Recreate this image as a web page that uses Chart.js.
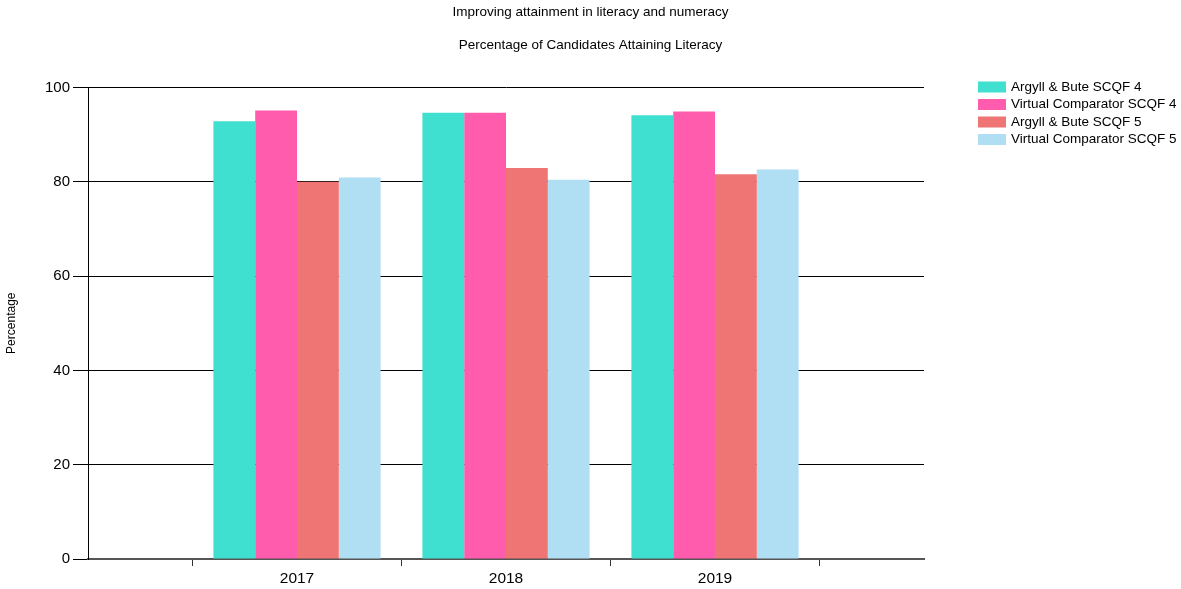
<!DOCTYPE html>
<html>
<head>
<meta charset="utf-8">
<script src="https://cdn.jsdelivr.net/npm/chart.js@4/dist/chart.umd.min.js"></script>
<style>
html,body{margin:0;padding:0;background:#fff;}
canvas{display:block;}
</style>
</head>
<body>
<canvas id="c" width="1181" height="589"></canvas>
<script>
const categories = ['', '2017', '2018', '2019', ''];
const seriesNames = ['Argyll & Bute SCQF 4', 'Virtual Comparator SCQF 4', 'Argyll & Bute SCQF 5', 'Virtual Comparator SCQF 5'];
const argyllSCQF4 = [null, 92.8, 94.6, 94.1, null];
const virtualSCQF4 = [null, 95.1, 94.6, 94.9, null];
const argyllSCQF5 = [null, 80.0, 82.9, 81.6, null];
const virtualSCQF5 = [null, 80.9, 80.4, 82.6, null];
const yTicks = [0, 20, 40, 60, 80, 100];
const colors = ['#40E0D0', '#FF5CAD', '#EE7574', '#B0DEF2'];

const FONT = '"Liberation Sans", Arial, sans-serif';

// A right-side layout box that reserves the legend column and draws the legend
const legendBoxPlugin = {
  id: 'legendBox',
  beforeInit(chart) {
    const box = {
      position: 'right',
      weight: 100,
      fullSize: false,
      options: { stackWeight: 1 },
      left: 0, top: 0, right: 0, bottom: 0, width: 0, height: 0,
      isHorizontal() { return false; },
      update(maxWidth, maxHeight) {
        this.width = 257;
        this.height = maxHeight;
        return this;
      },
      getPadding() { return { top: 0, left: 0, right: 0, bottom: 0 }; },
      draw() {
        const ctx = chart.ctx;
        ctx.save();
        ctx.font = '13.5px ' + FONT;
        ctx.textBaseline = 'middle';
        ctx.textAlign = 'left';
        const x0 = this.left + 54;
        chart.data.datasets.forEach((ds, i) => {
          const y = 87 + i * 17.5;
          ctx.fillStyle = ds.backgroundColor;
          ctx.fillRect(x0, y - 5.5, 28, 11);
          ctx.fillStyle = '#000';
          ctx.fillText(ds.label, x0 + 33, y);
        });
        ctx.restore();
      }
    };
    Chart.layouts.addBox(chart, box);
  }
};

const datasets = [argyllSCQF4, virtualSCQF4, argyllSCQF5, virtualSCQF5].map((d, i) => ({
  label: seriesNames[i],
  data: d,
  backgroundColor: colors[i],
  borderWidth: 0,
  categoryPercentage: 0.8,
  barPercentage: 1.0
}));

new Chart(document.getElementById('c'), {
  type: 'bar',
  data: { labels: categories, datasets },
  options: {
    responsive: false,
    animation: false,
    layout: { padding: { left: 0, right: 0, top: 0, bottom: 0 } },
    plugins: {
      legend: { display: false },
      tooltip: { enabled: false },
      title: {
        display: true,
        text: 'Improving attainment in literacy and numeracy',
        color: '#000',
        font: { family: FONT, size: 13.5, weight: 'normal', lineHeight: 1.2 },
        padding: { top: 4, bottom: 17 }
      },
      subtitle: {
        display: true,
        text: 'Percentage of Candidates Attaining Literacy',
        color: '#000',
        font: { family: FONT, size: 13.5, weight: 'normal', lineHeight: 1.2 },
        padding: { top: 0, bottom: 34 }
      }
    },
    scales: {
      x: {
        offset: false,
        afterFit(scale) { scale.height = 30; },
        grid: {
          offset: true,
          drawOnChartArea: false,
          drawTicks: true,
          tickLength: 7,
          color: '#333',
          lineWidth: 1
        },
        border: { display: true, color: '#555', width: 2 },
        ticks: {
          color: '#000',
          font: { family: FONT, size: 15.5, lineHeight: 1 },
          padding: 5,
          autoSkip: false,
          maxRotation: 0
        }
      },
      y: {
        min: 0,
        max: 100,
        afterBuildTicks(scale) { scale.ticks = yTicks.map(v => ({ value: v })); },
        afterFit(scale) { scale.width = 88; },
        grid: {
          color: '#000',
          lineWidth: 1,
          drawTicks: true,
          tickLength: 15
        },
        border: { display: true, color: '#000', width: 1 },
        ticks: {
          color: '#000',
          font: { family: FONT, size: 15 },
          padding: 3
        },
        title: {
          display: true,
          text: 'Percentage',
          color: '#000',
          font: { family: FONT, size: 12 },
          padding: { top: 4, bottom: 0 }
        }
      }
    }
  },
  plugins: [legendBoxPlugin]
});
</script>
</body>
</html>
